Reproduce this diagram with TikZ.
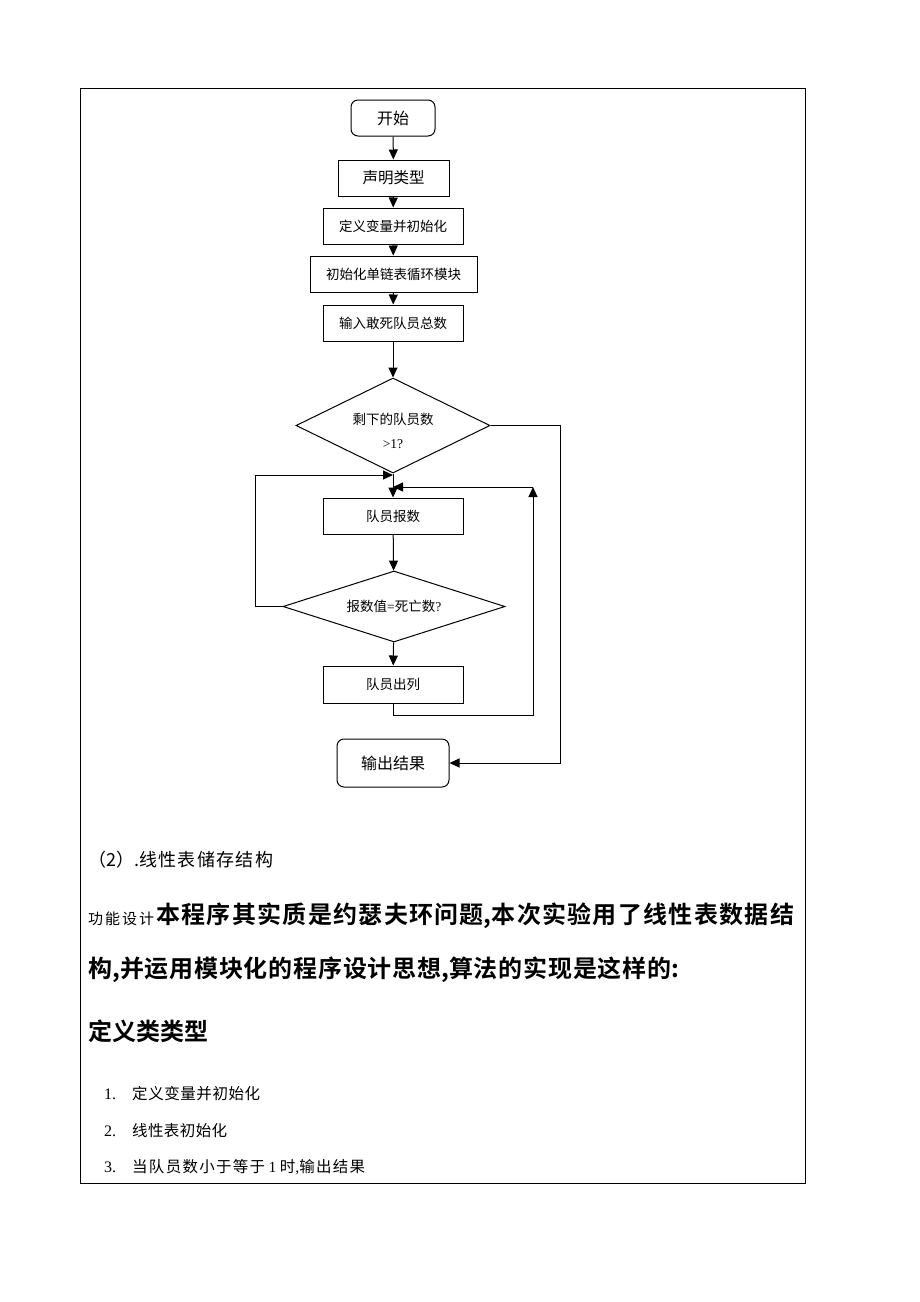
\documentclass[tikz,border=0pt]{standalone}
\usepackage{fontspec}
\setmainfont{Liberation Serif}
\newfontfamily\cjk{Noto Sans CJK SC}[BoldFont={Noto Sans CJK SC Bold}]
\makeatletter
\XeTeXinterchartokenstate=1
\newXeTeXintercharclass\mycjkclass
\count@="4E00
\loop
  \XeTeXcharclass\count@=\mycjkclass
  \advance\count@ 1
\ifnum\count@<"A000 \repeat
\makeatother
\XeTeXinterchartoks\mycjkclass\mycjkclass={\hskip0pt plus 1fil\relax}
\usetikzlibrary{shapes.geometric,arrows.meta}
\begin{document}
\begin{tikzpicture}[x=1pt,y=-1pt,
  box/.style={draw,line width=1pt,inner sep=0pt,font=\cjk\fontsize{13.5}{15}\selectfont},
  rbox/.style={box,rounded corners=7pt,font=\cjk\fontsize{16}{18}\selectfont},
  dia/.style={draw,line width=1pt,diamond,inner sep=0pt,font=\cjk\fontsize{13.5}{15}\selectfont},
  arr/.style={line width=1pt,-{Triangle[length=10pt,width=9pt]}},
  ln/.style={line width=1pt},
  txt/.style={anchor=base west,inner sep=0pt},
  big/.style={txt,font=\cjk\bfseries\fontsize{24}{26}\selectfont}]
\useasboundingbox (0,0) rectangle (920,1302);
\draw[line width=0.8pt] (80,88) rectangle (805,1183);
% flowchart nodes
\node[rbox,minimum width=84pt,minimum height=36pt] (start) at (393,118) {开始\hspace{24pt}};
\node[box,minimum width=111pt,minimum height=36pt,font=\cjk\fontsize{15.5}{17}\selectfont] (decl) at (393.5,178) {声明类型\hspace{24pt}};
\node[box,minimum width=140pt,minimum height=36pt] (defv) at (393,226) {定义变量并初始化};
\node[box,minimum width=167pt,minimum height=36pt] (init) at (393.5,274) {初始化单链表循环模块};
\node[box,minimum width=140pt,minimum height=36pt] (input) at (393,323) {输入敢死队员总数};
\node[dia,aspect=2.04,minimum width=194pt,minimum height=95pt,
  label={[yshift=-5pt,align=center,font=\cjk\fontsize{13.5}{15}\selectfont]center:剩下的队员数\\[9pt]{\rmfamily >1?}}] (d1) at (393,425.5) {};
\node[box,minimum width=140pt,minimum height=36pt] (count) at (393,516) {队员报数};
\node[dia,aspect=3.1,minimum width=222pt,minimum height=71pt] (d2) at (394,606.5) {报数值{\rmfamily =}死亡数{\rmfamily ?}};
\node[box,minimum width=140pt,minimum height=37pt] (leave) at (393,684.5) {队员出列};
\node[rbox,minimum width=112pt,minimum height=48pt] (out) at (393,763) {输出结果};
\coordinate (j1) at (393,475);
\coordinate (j2) at (393,487);
\coordinate (lc) at (255,475);
\coordinate (rc) at (533,715);
\coordinate (rt) at (533,487);
\coordinate (oc) at (560,763);
% connectors
\draw[arr] (start) -- (decl);
\draw[arr] (decl) -- (defv);
\draw[arr] (defv) -- (init);
\draw[arr] (init) -- (input);
\draw[arr] (input) -- (d1);
\draw[arr] (d1) -- (count);
\draw[arr] (count) -- (d2);
\draw[arr] (d2) -- (leave);
\draw[arr] (d1.east) -| (oc) -- (out.east);
\draw[ln] (d2.west) -| (lc);
\draw[arr] (lc) -- (j1);
\draw[arr] (leave.south) |- (rc) -- (rt);
\draw[arr] (rt) -- (j2);
% text
\node[txt,font=\cjk\fontsize{18}{20}\selectfont] (h2) at (88,866) {\makebox[185pt][s]{（2）.线性表储存结构}};
\node[txt,font=\cjk\fontsize{15}{17}\selectfont] (fn) at (88,924) {\makebox[66pt][s]{功能设计}};
\node[big] (p1) at (156,923) {\makebox[638pt][s]{本程序其实质是约瑟夫环问题,本次实验用了线性表数据结}};
\node[big] (p2) at (88,977) {\makebox[591pt][s]{构,并运用模块化的程序设计思想,算法的实现是这样的:}};
\node[big] (p3) at (88,1040) {\makebox[120pt][s]{定义类类型}};
\node[txt,font=\rmfamily\fontsize{16}{18}\selectfont] (n1) at (104,1099) {1.};
\node[txt,font=\cjk\fontsize{15.5}{17}\selectfont] (l1) at (132,1099) {\makebox[128pt][s]{定义变量并初始化}};
\node[txt,font=\rmfamily\fontsize{16}{18}\selectfont] (n2) at (104,1136) {2.};
\node[txt,font=\cjk\fontsize{15.5}{17}\selectfont] (l2) at (132,1136) {\makebox[95pt][s]{线性表初始化}};
\node[txt,font=\rmfamily\fontsize{16}{18}\selectfont] (n3) at (104,1172) {3.};
\node[txt,font=\cjk\fontsize{15.5}{17}\selectfont] (l3) at (132,1172) {\makebox[233pt][s]{当队员数小于等于 {\rmfamily 1} 时{\rmfamily ,}输出结果}};
\end{tikzpicture}
\end{document}
